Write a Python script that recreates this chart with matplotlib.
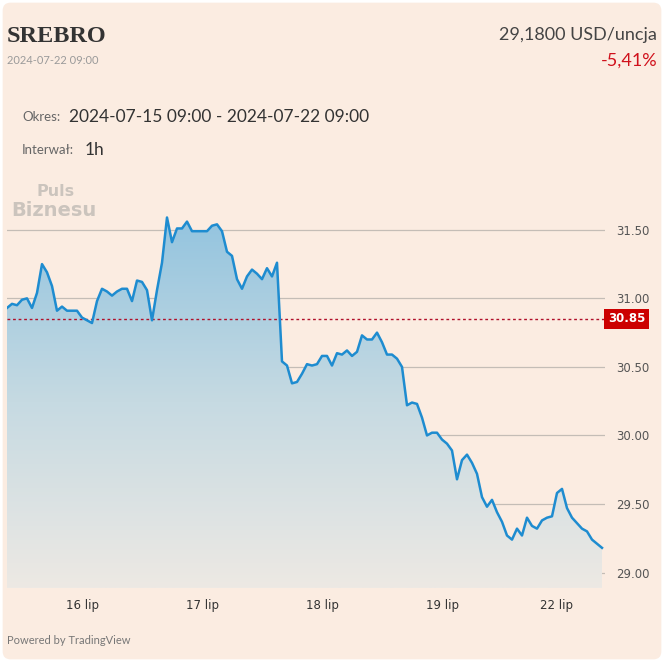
import numpy as np
import matplotlib.pyplot as plt
from matplotlib.colors import LinearSegmentedColormap
from matplotlib.patches import FancyBboxPatch
from matplotlib.transforms import blended_transform_factory

# hourly prices, 2024-07-15 09:00 .. 2024-07-22 09:00
prices = [
    30.93, 30.96, 30.95, 30.99, 31.00, 30.93, 31.04, 31.25, 31.19, 31.09,
    30.91, 30.94, 30.91, 30.91, 30.91, 30.86, 30.84, 30.82, 30.98, 31.07,
    31.05, 31.02, 31.05, 31.07, 31.07, 30.98, 31.13, 31.12, 31.06, 30.84,
    31.06, 31.26, 31.59, 31.41, 31.51, 31.51, 31.56, 31.49, 31.49, 31.49,
    31.49, 31.53, 31.54, 31.49, 31.34, 31.31, 31.14, 31.07, 31.16, 31.21,
    31.18, 31.14, 31.22, 31.16, 31.26, 30.54, 30.51, 30.38, 30.39, 30.45,
    30.52, 30.51, 30.52, 30.58, 30.58, 30.51, 30.60, 30.59, 30.62, 30.58,
    30.61, 30.73, 30.70, 30.70, 30.75, 30.68, 30.59, 30.59, 30.56, 30.50,
    30.22, 30.24, 30.23, 30.13, 30.00, 30.02, 30.02, 29.97, 29.94, 29.89,
    29.68, 29.82, 29.86, 29.80, 29.72, 29.55, 29.48, 29.53, 29.44, 29.37,
    29.27, 29.24, 29.32, 29.27, 29.40, 29.34, 29.32, 29.38, 29.40, 29.41,
    29.58, 29.61, 29.47, 29.40, 29.36, 29.32, 29.30, 29.24, 29.21, 29.18,
]
day_ticks = [15, 39, 63, 87, 110]
day_labels = ["16 lip", "17 lip", "18 lip", "19 lip", "22 lip"]
y_ticks = [29.0, 29.5, 30.0, 30.5, 31.0, 31.5]
y_labels = ["29.00", "29.50", "30.00", "30.50", "31.00", "31.50"]
prev_close = 30.85

W, H = 664, 662
bg = "#FBECE1"
line_c = "#1E8CD0"

fig = plt.figure(figsize=(W / 100, H / 100), dpi=100, facecolor="white")
fig.patches.append(FancyBboxPatch((0.004, 0.004), 0.992, 0.992,
                                  boxstyle="round,pad=0,rounding_size=0.012",
                                  transform=fig.transFigure, facecolor=bg,
                                  edgecolor="none", zorder=-10))


def px(x, y):
    return x / W, 1 - y / H


ax = fig.add_axes([7 / W, 1 - 588 / H, (605 - 7) / W, (588 - 175) / H])
ax.set_facecolor("none")
x = np.arange(len(prices))
ymin, ymax = 28.887, 31.90
ax.set_xlim(0, 119.6)
ax.set_ylim(ymin, ymax)

# gradient fill under the line
poly = ax.fill_between(x, prices, ymin, facecolor="none", edgecolor="none")
cmap = LinearSegmentedColormap.from_list("g", ["#EDE9E4", "#C6DAE2", "#93C4DF"])
grad = np.linspace(0, 1, 256).reshape(-1, 1)
im = ax.imshow(grad, extent=[0, 119.6, ymin, 31.6], origin="lower",
               aspect="auto", cmap=cmap, zorder=1)
im.set_clip_path(poly.get_paths()[0], transform=ax.transData)

ax.plot(x, prices, color=line_c, lw=1.8, zorder=3, solid_joinstyle="round")

for yv in y_ticks:
    ax.axhline(yv, color="#C4BDB6", lw=0.9, zorder=0.5)

ax.axhline(prev_close, color="#B0102A", lw=1.0, ls=(0, (2, 2)), zorder=2)
tr = blended_transform_factory(ax.transAxes, ax.transData)
ax.text(1.005, prev_close, "30.85", transform=tr, ha="left", va="center",
        color="white", fontsize=8.5, fontweight="bold", family="DejaVu Sans",
        bbox=dict(boxstyle="square,pad=0.3", facecolor="#CC0000", edgecolor="none"),
        clip_on=False, zorder=5)

ax.yaxis.tick_right()
ax.set_yticks(y_ticks)
ax.set_yticklabels(y_labels)
ax.set_xticks(day_ticks)
ax.set_xticklabels(day_labels)
ax.tick_params(axis="y", length=0, pad=8, labelsize=8.5, labelcolor="#555555")
ax.tick_params(axis="x", length=0, pad=8, labelsize=8.5, labelcolor="#333333")
for lab in ax.get_xticklabels() + ax.get_yticklabels():
    lab.set_family("DejaVu Sans")
for s in ax.spines.values():
    s.set_visible(False)

# header
fig.text(*px(7, 37), "SREBRO", family="Liberation Serif", fontweight="bold",
         fontsize=17.5, color="#333333", va="center")
fig.text(*px(7, 61), "2024-07-22 09:00", family="Lato", fontsize=8,
         color="#9A9A9A", va="center")
fig.text(*px(657, 35), "29,1800 USD/uncja", family="Lato", fontsize=13,
         color="#444444", va="center", ha="right")
fig.text(*px(657, 61), "-5,41%", family="Lato", fontsize=13,
         color="#D0101B", va="center", ha="right")
fig.text(*px(22, 117), "Okres:", family="Lato", fontsize=9.5,
         color="#666666", va="center")
fig.text(*px(69, 117), "2024-07-15 09:00 - 2024-07-22 09:00", family="Lato",
         fontsize=12.5, color="#333333", va="center")
fig.text(*px(22, 150), "Interwał:", family="Lato", fontsize=9.5,
         color="#666666", va="center")
fig.text(*px(85, 150), "1h", family="Lato", fontsize=12.5,
         color="#333333", va="center")

# watermark logo
fig.text(*px(37, 191), "Puls", family="DejaVu Sans", fontweight="bold",
         fontsize=11.5, color="#CBC4BD", va="center")
fig.text(*px(11, 210), "Biznesu", family="DejaVu Sans", fontweight="bold",
         fontsize=14, color="#CBC4BD", va="center")

fig.text(*px(7, 640), "Powered by TradingView", family="Lato", fontsize=8,
         color="#777777", va="center")

fig.savefig("out.png", dpi=100, facecolor="white")
